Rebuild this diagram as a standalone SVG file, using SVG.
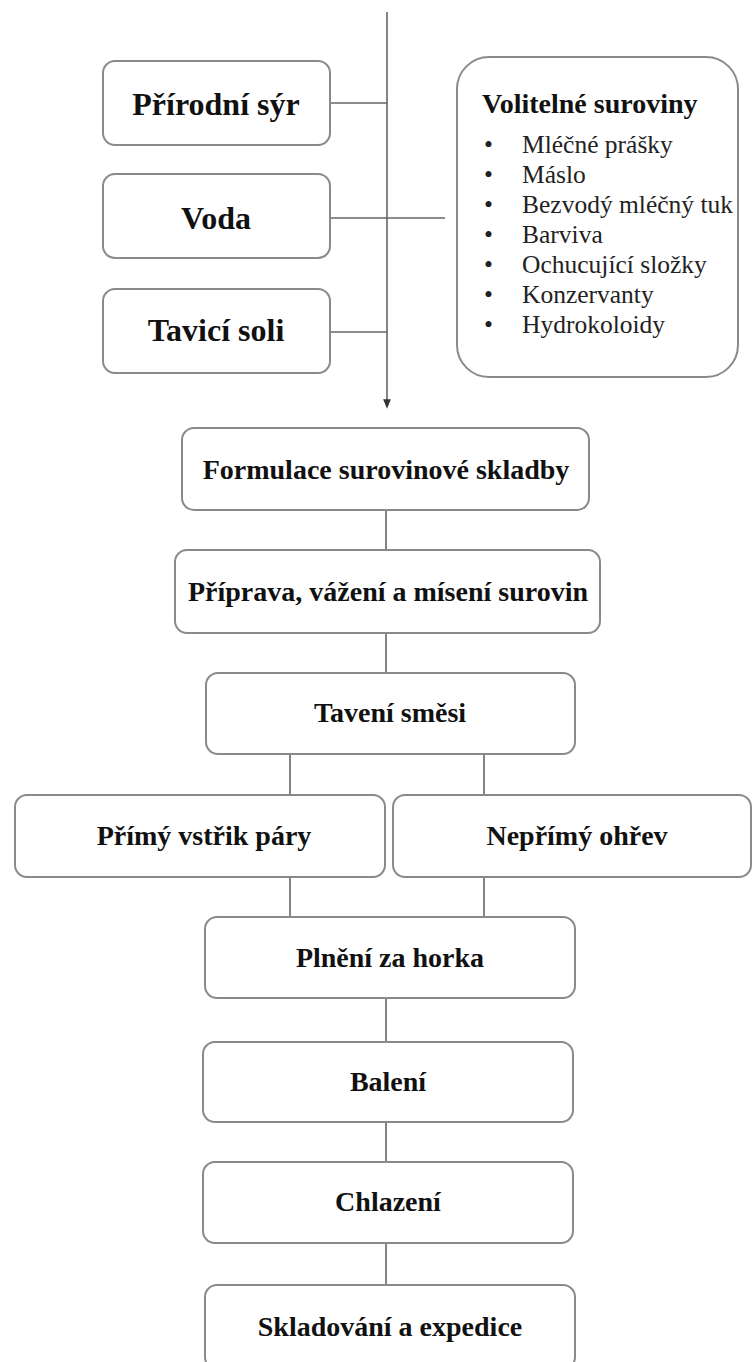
<svg xmlns="http://www.w3.org/2000/svg" width="754" height="1362" viewBox="0 0 754 1362">
<defs>
<style>
.box{fill:#fff;stroke:#8a8a8a;stroke-width:2}
.ln{stroke:#666;stroke-width:1.6;fill:none}
.t{font-family:"Liberation Serif","Times New Roman",serif;font-weight:bold;fill:#111;text-anchor:middle}
.big{font-size:32px}
.mid{font-size:28px}
.li{font-family:"Liberation Serif","Times New Roman",serif;font-size:25.5px;fill:#222}
.bu{font-family:"Liberation Serif","Times New Roman",serif;font-size:25.5px;fill:#222}
</style>
<marker id="arr" viewBox="0 0 10 10" refX="5" refY="5" markerWidth="6" markerHeight="6" orient="auto">
<path d="M0,1 L10,5 L0,9 Z" fill="#333"/>
</marker>
</defs>
<rect width="754" height="1362" fill="#fff"/>
<g id="connectors">
<line class="ln" x1="387" y1="12" x2="387" y2="404" marker-end="url(#arr)"/>
<line class="ln" x1="330" y1="103" x2="387" y2="103"/>
<line class="ln" x1="330" y1="218" x2="445" y2="218"/>
<line class="ln" x1="330" y1="332" x2="387" y2="332"/>
<line class="ln" x1="386" y1="510" x2="386" y2="550"/>
<line class="ln" x1="386" y1="633" x2="386" y2="673"/>
<line class="ln" x1="290" y1="754" x2="290" y2="795"/>
<line class="ln" x1="484" y1="754" x2="484" y2="795"/>
<line class="ln" x1="290" y1="877" x2="290" y2="917"/>
<line class="ln" x1="484" y1="877" x2="484" y2="917"/>
<line class="ln" x1="386" y1="998" x2="386" y2="1042"/>
<line class="ln" x1="386" y1="1122" x2="386" y2="1162"/>
<line class="ln" x1="386" y1="1243" x2="386" y2="1285"/>
</g>
<g id="prirodni-syr">
<rect class="box" x="103" y="61" width="227" height="84" rx="12"/>
<text class="t big" x="216" y="115">Přírodní sýr</text>
</g>
<g id="voda">
<rect class="box" x="103" y="174" width="227" height="84" rx="12"/>
<text class="t big" x="216" y="229">Voda</text>
</g>
<g id="tavici-soli">
<rect class="box" x="103" y="289" width="227" height="84" rx="12"/>
<text class="t big" x="216" y="341">Tavicí soli</text>
</g>
<g id="volitelne-suroviny">
<rect class="box" x="457" y="57" width="281" height="320" rx="32"/>
<text class="t mid" x="482" y="113" style="text-anchor:start">Volitelné suroviny</text>
<g class="bu">
<text x="484" y="153">•</text>
<text x="484" y="183">•</text>
<text x="484" y="213">•</text>
<text x="484" y="243">•</text>
<text x="484" y="273">•</text>
<text x="484" y="303">•</text>
<text x="484" y="333">•</text>
</g>
<text class="li" x="522" y="153">Mléčné prášky</text>
<text class="li" x="522" y="183">Máslo</text>
<text class="li" x="522" y="213">Bezvodý mléčný tuk</text>
<text class="li" x="522" y="243">Barviva</text>
<text class="li" x="522" y="273">Ochucující složky</text>
<text class="li" x="522" y="303">Konzervanty</text>
<text class="li" x="522" y="333">Hydrokoloidy</text>
</g>
<g id="formulace">
<rect class="box" x="182" y="428" width="407" height="82" rx="12"/>
<text class="t mid" x="386" y="479">Formulace surovinové skladby</text>
</g>
<g id="priprava">
<rect class="box" x="175" y="550" width="425" height="83" rx="12"/>
<text class="t mid" x="388" y="601">Příprava, vážení a mísení surovin</text>
</g>
<g id="taveni">
<rect class="box" x="206" y="673" width="369" height="81" rx="12"/>
<text class="t mid" x="390" y="722">Tavení směsi</text>
</g>
<g id="primy">
<rect class="box" x="15" y="795" width="370" height="82" rx="12"/>
<text class="t mid" x="204" y="845">Přímý vstřik páry</text>
</g>
<g id="neprimy">
<rect class="box" x="393" y="795" width="358" height="82" rx="12"/>
<text class="t mid" x="577" y="845">Nepřímý ohřev</text>
</g>
<g id="plneni">
<rect class="box" x="205" y="917" width="370" height="81" rx="12"/>
<text class="t mid" x="390" y="967">Plnění za horka</text>
</g>
<g id="baleni">
<rect class="box" x="203" y="1042" width="370" height="80" rx="12"/>
<text class="t mid" x="388" y="1091">Balení</text>
</g>
<g id="chlazeni">
<rect class="box" x="203" y="1162" width="370" height="81" rx="12"/>
<text class="t mid" x="388" y="1211">Chlazení</text>
</g>
<g id="skladovani">
<rect class="box" x="205" y="1285" width="370" height="84" rx="12"/>
<text class="t mid" x="390" y="1336">Skladování a expedice</text>
</g>
</svg>
